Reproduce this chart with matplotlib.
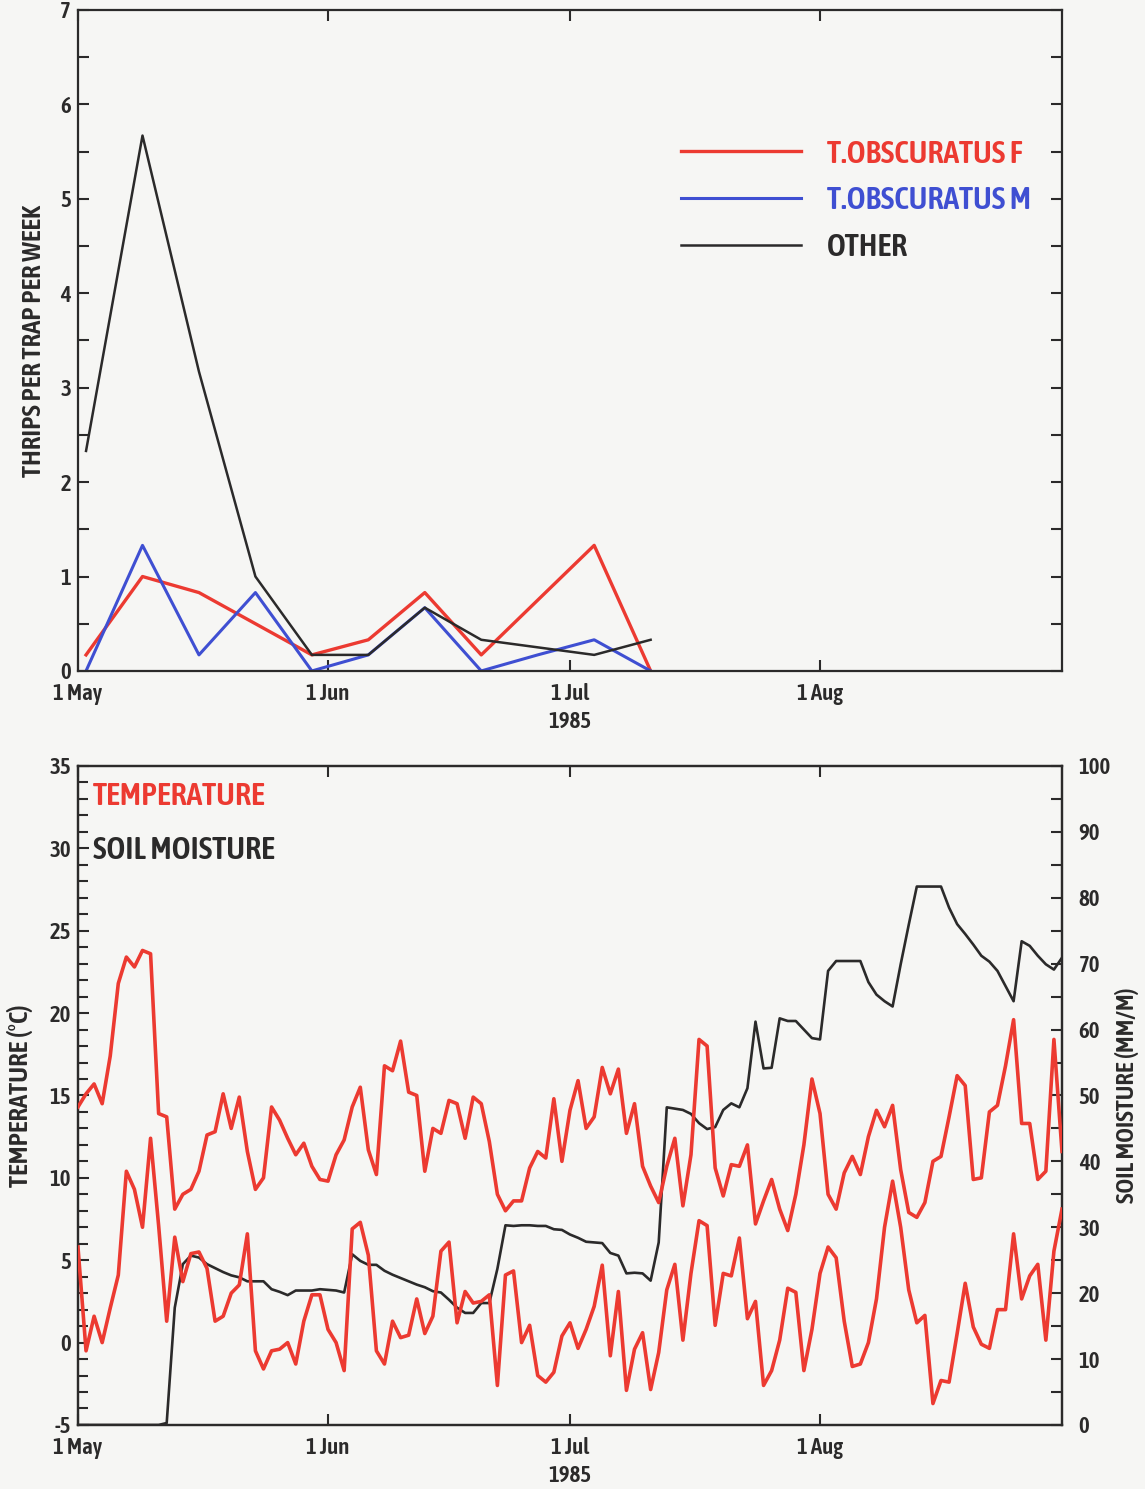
import matplotlib
matplotlib.use("Agg")
import matplotlib.pyplot as plt
import numpy as np
import pandas as pd

plt.rcParams['font.family'] = ['Asap Condensed', 'DejaVu Sans']
plt.rcParams['font.stretch'] = 'condensed'
plt.rcParams['font.weight'] = 600
plt.rcParams['axes.labelweight'] = 600
plt.rcParams['axes.unicode_minus'] = False

# ---------------- data ----------------
trap_dates = pd.to_datetime(["1985-05-02", "1985-05-09", "1985-05-16", "1985-05-23", "1985-05-30",
                             "1985-06-06", "1985-06-13", "1985-06-20", "1985-06-27", "1985-07-04",
                             "1985-07-11"])
obscuratus_f = [0.17, 1.0, 0.83, 0.5, 0.17, 0.33, 0.83, 0.17, 0.75, 1.33, 0.0]
obscuratus_m = [0.0, 1.33, 0.17, 0.83, 0.0, 0.17, 0.67, 0.0, 0.17, 0.33, 0.0]
other = [2.33, 5.67, 3.17, 1.0, 0.17, 0.17, 0.67, 0.33, 0.25, 0.17, 0.33]
trap_labels = ["T.OBSCURATUS F", "T.OBSCURATUS M", "OTHER"]

daily_dates = pd.date_range("1985-05-01", "1985-08-31", freq="D")
temp_max = [14.3, 15.1, 15.7, 14.5, 17.4, 21.8, 23.4, 22.8, 23.8, 23.6,
            13.9, 13.7, 8.1, 9.0, 9.3, 10.4, 12.6, 12.8, 15.1, 13.0,
            14.9, 11.6, 9.3, 10.0, 14.3, 13.5, 12.4, 11.4, 12.1, 10.7,
            9.9, 9.8, 11.4, 12.3, 14.3, 15.5, 11.7, 10.2, 16.8, 16.5,
            18.3, 15.2, 15.0, 10.4, 13.0, 12.7, 14.7, 14.5, 12.4, 14.9,
            14.5, 12.2, 9.0, 8.0, 8.6, 8.6, 10.6, 11.6, 11.2, 14.8,
            11.0, 14.1, 15.9, 13.0, 13.7, 16.7, 15.1, 16.6, 12.7, 14.5,
            10.7, 9.5, 8.5, 10.7, 12.4, 8.3, 11.4, 18.4, 18.0, 10.6,
            8.9, 10.8, 10.7, 12.0, 7.2, 8.6, 9.9, 8.1, 6.8, 9.0,
            12.0, 16.0, 13.9, 9.0, 8.1, 10.3, 11.3, 10.2, 12.5, 14.1,
            13.1, 14.4, 10.5, 7.9, 7.6, 8.5, 11.0, 11.3, 13.7, 16.2,
            15.6, 9.9, 10.0, 14.0, 14.4, 16.8, 19.6, 13.3, 13.3, 9.9,
            10.4, 18.4, 11.6]
temp_min = [5.8, -0.5, 1.6, 0.0, 2.1, 4.1, 10.4, 9.3, 7.0, 12.4,
            7.1, 1.3, 6.4, 3.7, 5.4, 5.5, 4.5, 1.3, 1.6, 3.0,
            3.5, 6.6, -0.5, -1.6, -0.5, -0.4, 0.0, -1.3, 1.3, 2.9,
            2.9, 0.8, 0.0, -1.7, 6.9, 7.3, 5.3, -0.5, -1.3, 1.3,
            0.3, 0.45, 2.65, 0.55, 1.6, 5.55, 6.1, 1.2, 3.1, 2.4,
            2.5, 2.9, -2.6, 4.1, 4.35, 0.0, 1.05, -2.0, -2.4, -1.8,
            0.4, 1.2, -0.35, 0.8, 2.2, 4.7, -0.8, 3.1, -2.9, -0.4,
            0.6, -2.85, -0.6, 3.2, 4.75, 0.15, 4.2, 7.4, 7.1, 1.05,
            4.2, 4.05, 6.35, 1.45, 2.5, -2.6, -1.7, 0.15, 3.3, 3.05,
            -1.7, 0.8, 4.2, 5.8, 5.15, 1.3, -1.45, -1.3, 0.0, 2.65,
            7.0, 9.8, 7.0, 3.2, 1.2, 1.65, -3.7, -2.3, -2.4, 0.55,
            3.6, 0.95, -0.1, -0.35, 2.0, 2.0, 6.6, 2.65, 4.05, 4.75,
            0.15, 5.55, 8.1]
soil_moisture = [0, 0, 0, 0, 0, 0, 0, 0, 0, 0,
                 0, 0.3, 17.8, 24.4, 25.7, 25.4, 24.4, 23.8, 23.2, 22.7,
                 22.4, 21.8, 21.8, 21.8, 20.6, 20.2, 19.7, 20.4, 20.4, 20.4,
                 20.6, 20.5, 20.4, 20.1, 25.9, 24.9, 24.3, 24.3, 23.4, 22.8,
                 22.3, 21.8, 21.3, 20.9, 20.3, 20.1, 19.0, 17.8, 17.0, 17.0,
                 18.5, 18.5, 23.7, 30.3, 30.2, 30.3, 30.3, 30.2, 30.2, 29.7,
                 29.6, 28.9, 28.4, 27.8, 27.7, 27.6, 26.1, 25.7, 23.0, 23.1,
                 23.0, 21.9, 27.7, 48.2, 48.0, 47.8, 47.2, 45.8, 44.9, 45.2,
                 47.8, 48.8, 48.2, 51.1, 61.2, 54.1, 54.2, 61.7, 61.3, 61.3,
                 60.0, 58.7, 58.5, 68.9, 70.4, 70.4, 70.4, 70.4, 67.2, 65.3,
                 64.3, 63.5, 69.9, 75.9, 81.7, 81.7, 81.7, 81.7, 78.5, 76.0,
                 74.5, 72.9, 71.2, 70.3, 68.9, 66.6, 64.3, 73.4, 72.7, 71.2,
                 69.9, 69.1, 70.9]

month_ticks = pd.to_datetime(["1985-05-01", "1985-06-01", "1985-07-01", "1985-08-01"])
month_labels = ["1 May", "1 Jun", "1 Jul", "1 Aug"]
x_start, x_end = pd.Timestamp("1985-05-01"), pd.Timestamp("1985-08-31")

# ---------------- style ----------------
RED = "#ec3a31"
BLUE = "#3f4fd2"
DARK = "#2b2a2a"
BG = "#f6f6f4"
FS_TICK = 16.5
FS_LAB = 19.5
FS_LEG = 23

fig = plt.figure(figsize=(11.45, 14.89), dpi=100, facecolor=BG)

def style_box(ax):
    ax.set_facecolor(BG)
    for s in ax.spines.values():
        s.set_linewidth(1.6)
        s.set_color(DARK)

# ---------------- top panel ----------------
ax1 = fig.add_axes([0.0681, 0.5494, 0.8594, 0.4439])
style_box(ax1)
ax1.plot(trap_dates, obscuratus_f, color=RED, lw=2.4, label=trap_labels[0])
ax1.plot(trap_dates, obscuratus_m, color=BLUE, lw=2.2, label=trap_labels[1])
ax1.plot(trap_dates, other, color=DARK, lw=1.8, label=trap_labels[2])
ax1.set_xlim(x_start, x_end)
ax1.set_ylim(0, 7)
ax1.set_xticks(month_ticks)
ax1.set_xticklabels(month_labels)
ax1.set_yticks(np.arange(0, 8, 1))
ax1.set_yticks(np.arange(0, 7.01, 0.5), minor=True)
ax1.tick_params(axis='both', which='both', direction='in', color=DARK, width=1.5,
                top=True, right=True, labelsize=FS_TICK, labelcolor=DARK)
ax1.tick_params(axis='both', which='major', length=8, pad=5)
ax1.tick_params(axis='both', which='minor', length=8)
ax1.tick_params(axis='x', pad=9)
ax1.set_ylabel("THRIPS PER TRAP PER WEEK", fontsize=FS_LAB, color=DARK, labelpad=10)
ax1.set_xlabel("1985", fontsize=FS_TICK, color=DARK, labelpad=4)
leg = ax1.legend(loc='center left', bbox_to_anchor=(0.613, 0.711), frameon=False,
                 fontsize=FS_LEG, handlelength=3.75, handletextpad=0.8,
                 labelspacing=0.5, borderpad=0, borderaxespad=0, labelcolor='linecolor')

# ---------------- bottom panel ----------------
ax2 = fig.add_axes([0.0681, 0.0430, 0.8594, 0.4426])
style_box(ax2)
ax3 = ax2.twinx()
ax2.plot(daily_dates, temp_max, color=RED, lw=2.6, zorder=3)
ax2.plot(daily_dates, temp_min, color=RED, lw=2.6, zorder=3)
ax3.plot(daily_dates, soil_moisture, color=DARK, lw=1.9)
ax2.set_zorder(ax3.get_zorder() + 1)
ax2.patch.set_visible(False)
ax3.set_facecolor(BG)
ax2.set_xlim(x_start, x_end)
ax2.set_ylim(-5, 35)
ax3.set_ylim(0, 100)
ax2.set_xticks(month_ticks)
ax2.set_xticklabels(month_labels)
ax2.set_yticks(np.arange(-5, 36, 5))
ax2.set_yticks(np.arange(-5, 35.1, 1), minor=True)
ax3.set_yticks(np.arange(0, 101, 10))
ax3.set_yticks(np.arange(0, 100.1, 5), minor=True)
ax2.tick_params(axis='both', which='both', direction='in', color=DARK, width=1.5,
                top=True, right=False, labelsize=FS_TICK, labelcolor=DARK)
ax2.tick_params(axis='both', which='major', length=8, pad=5)
ax2.tick_params(axis='both', which='minor', length=7)
ax2.tick_params(axis='x', pad=9)
ax3.tick_params(axis='y', which='both', direction='in', color=DARK, width=1.5, length=8,
                labelsize=FS_TICK, labelcolor=DARK, pad=12)
for s in ax3.spines.values():
    s.set_linewidth(1.6)
    s.set_color(DARK)
ax2.set_ylabel("TEMPERATURE (\u00b0C)", fontsize=FS_LAB, color=DARK, labelpad=12)
ax3.set_ylabel("SOIL MOISTURE (MM/M)", fontsize=18, color=DARK, labelpad=3)
ax2.set_xlabel("1985", fontsize=FS_TICK, color=DARK, labelpad=4)
ax2.text(0.015, 0.953, "TEMPERATURE", transform=ax2.transAxes, color=RED,
         fontsize=FS_LEG, va='center', ha='left')
ax2.text(0.015, 0.871, "SOIL MOISTURE", transform=ax2.transAxes, color=DARK,
         fontsize=FS_LEG, va='center', ha='left')

fig.savefig("out.png", dpi=100, facecolor=BG)
